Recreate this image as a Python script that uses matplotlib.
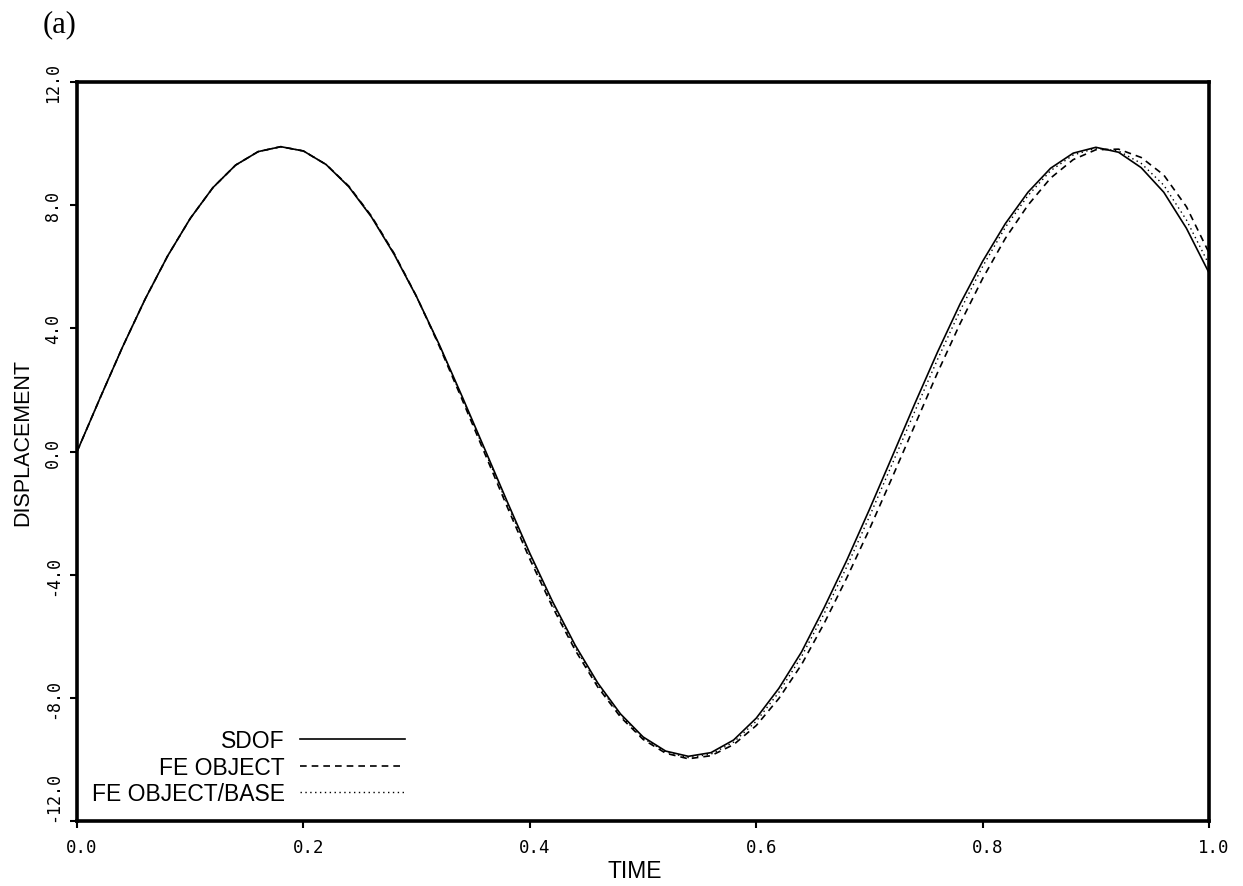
import numpy as np
import matplotlib
matplotlib.use("Agg")
import matplotlib.pyplot as plt
import matplotlib.transforms as mtransforms

# time samples (s) and displacements
time = [0.00, 0.02, 0.04, 0.06, 0.08, 0.10, 0.12, 0.14, 0.16, 0.18,
        0.20, 0.22, 0.24, 0.26, 0.28, 0.30, 0.32, 0.34, 0.36, 0.38,
        0.40, 0.42, 0.44, 0.46, 0.48, 0.50, 0.52, 0.54, 0.56, 0.58,
        0.60, 0.62, 0.64, 0.66, 0.68, 0.70, 0.72, 0.74, 0.76, 0.78,
        0.80, 0.82, 0.84, 0.86, 0.88, 0.90, 0.92, 0.94, 0.96, 0.98, 1.00]

sdof = [0.00, 1.71, 3.38, 4.94, 6.35, 7.57, 8.57, 9.30, 9.74, 9.90,
        9.76, 9.32, 8.60, 7.62, 6.41, 5.02, 3.47, 1.80, 0.09, -1.63,
        -3.31, -4.87, -6.29, -7.52, -8.52, -9.27, -9.73, -9.90, -9.78, -9.37,
        -8.66, -7.69, -6.51, -5.07, -3.53, -1.88, -0.17, 1.55, 3.22, 4.79,
        6.18, 7.40, 8.42, 9.20, 9.69, 9.88, 9.72, 9.22, 8.42, 7.25, 5.80]

fe_object = [0.00, 1.71, 3.38, 4.94, 6.35, 7.57, 8.57, 9.30, 9.74, 9.90,
             9.76, 9.32, 8.62, 7.65, 6.44, 5.03, 3.42, 1.70, -0.05, -1.80,
             -3.50, -5.05, -6.45, -7.65, -8.62, -9.35, -9.80, -9.98, -9.88, -9.52,
             -8.90, -8.02, -6.92, -5.58, -4.10, -2.52, -0.85, 0.85, 2.55, 4.15,
             5.62, 6.92, 8.00, 8.88, 9.48, 9.80, 9.82, 9.55, 8.98, 7.95, 6.45]

fe_object_base = [0.00, 1.71, 3.38, 4.94, 6.35, 7.57, 8.57, 9.30, 9.74, 9.90,
                  9.76, 9.32, 8.61, 7.63, 6.42, 5.02, 3.45, 1.76, 0.03, -1.70,
                  -3.40, -4.96, -6.37, -7.58, -8.57, -9.31, -9.76, -9.94, -9.83, -9.44,
                  -8.76, -7.82, -6.66, -5.26, -3.74, -2.11, -0.41, 1.30, 2.98, 4.57,
                  6.01, 7.28, 8.31, 9.12, 9.63, 9.85, 9.76, 9.36, 8.65, 7.52, 6.07]

xticks = [0.0, 0.2, 0.4, 0.6, 0.8, 1.0]
yticks = [-12.0, -8.0, -4.0, 0.0, 4.0, 8.0, 12.0]

sans = ['Liberation Sans', 'DejaVu Sans']

fig = plt.figure(figsize=(12.43, 8.87), dpi=100)
ax = fig.add_axes([0.062, 0.0733, 0.9107, 0.8331])

l1, = ax.plot(time, sdof, color='black', lw=1.2, label='SDOF')
l2, = ax.plot(time, fe_object, color='black', lw=1.2, dashes=(4, 3), label='FE OBJECT')
l3, = ax.plot(time, fe_object_base, color='black', lw=1.0, dashes=(1, 2.5), label='FE OBJECT/BASE')

ax.set_xlim(0, 1.0)
ax.set_ylim(-12, 12)
ax.set_xticks(xticks)
ax.set_yticks(yticks)
ax.set_xticklabels(['%.1f' % v for v in xticks], family='DejaVu Sans Mono', fontsize=12.5)
ax.set_yticklabels(['%.1f' % v for v in yticks], family='DejaVu Sans Mono', fontsize=12,
                   rotation=90, va='center')
# bottom label sits above its tick, inside the frame height
ax.get_yticklabels()[0].set_va('bottom')
ax.tick_params(direction='out', length=5, width=1.5, color='black')
ax.tick_params(axis='x', pad=7)
ax.tick_params(axis='y', pad=6)

# x tick labels sit a little right of their ticks in the original
shift = mtransforms.ScaledTranslation(5 / 100, 0, fig.dpi_scale_trans)
for lab in ax.get_xticklabels():
    lab.set_transform(lab.get_transform() + shift)

for sp in ax.spines.values():
    sp.set_linewidth(2.6)

ax.set_xlabel('TIME', family=sans, fontsize=16.5)
ax.xaxis.set_label_coords(0.4925, -0.052)
ax.set_ylabel('DISPLACEMENT', family=sans, fontsize=15.5)
ax.yaxis.set_label_coords(-0.039, 0.513)

leg = ax.legend(handles=[l1, l2, l3], loc='lower right', bbox_to_anchor=(0.2898, 0.021),
                markerfirst=False, frameon=False, handlelength=4.6, handletextpad=0.65,
                labelspacing=0.17, borderpad=0, borderaxespad=0,
                prop={'family': sans, 'size': 16.5})

fig.text(0.034, 0.972, '(a)', family=['Liberation Serif', 'DejaVu Serif'], fontsize=22,
         va='center', ha='left')

fig.savefig('out.png', dpi=100)
